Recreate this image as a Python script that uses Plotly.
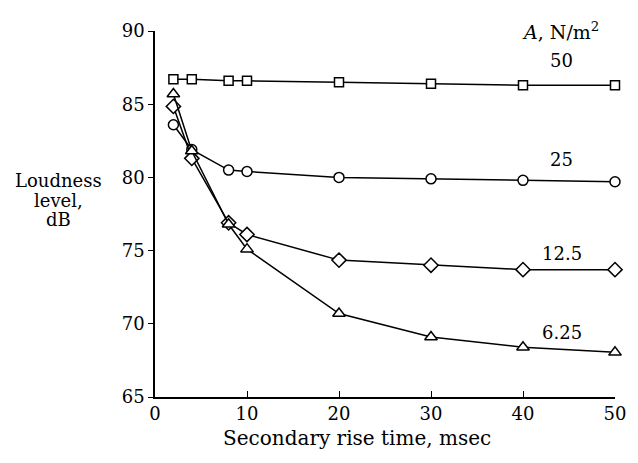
import plotly.graph_objects as go

rise_time = [2, 4, 8, 10, 20, 30, 40, 50]
level_50 = [86.7, 86.7, 86.6, 86.6, 86.5, 86.4, 86.3, 86.3]
level_25 = [83.6, 81.9, 80.5, 80.4, 80.0, 79.9, 79.8, 79.7]
level_12_5 = [84.85, 81.3, 76.9, 76.1, 74.35, 74.0, 73.7, 73.7]
level_6_25 = [85.7, 81.8, 76.8, 75.1, 70.7, 69.1, 68.4, 68.05]
series_labels = ["50", "25", "12.5", "6.25"]
label_y = [88.0, 81.25, 74.8, 69.4]
x_ticks = [0, 10, 20, 30, 40, 50]
y_ticks = [65, 70, 75, 80, 85, 90]
y_title_lines = ["Loudness", "level,", "dB"]
y_title_pos = [79.8, 78.45, 77.1]
x_title = "Secondary rise time, msec"

series_values = [level_50, level_25, level_12_5, level_6_25]
symbols = ["square", "circle", "diamond", "triangle-up"]
sizes = [9, 10, 11, 11]

FAM = "DejaVu Serif, Liberation Serif, serif"


def tf(size=18):
    return dict(size=size, family=FAM, color="black")


fig = go.Figure()
for name, vals, sym, sz, ly in zip(series_labels, series_values, symbols, sizes, label_y):
    fig.add_trace(go.Scatter(
        x=rise_time, y=vals, mode="lines+markers", name=name,
        line=dict(color="black", width=1.5),
        marker=dict(symbol=sym, size=sz, color="white",
                    line=dict(color="black", width=1.5)),
        showlegend=False, cliponaxis=False,
    ))
    fig.add_annotation(x=44.2, y=ly, text=name, showarrow=False, font=tf())

fig.add_annotation(x=44.1, y=90.0, text="<i>A</i>, N/m<sup>2</sup>",
                   showarrow=False, font=tf(19))
for line, yy in zip(y_title_lines, y_title_pos):
    fig.add_annotation(xref="paper", x=-0.2087, y=yy, xanchor="center",
                       text=line, showarrow=False, font=tf())
fig.add_annotation(xref="paper", yref="paper", x=0.439, y=-0.113,
                   xanchor="center", yanchor="middle",
                   text=x_title, showarrow=False, font=tf(20))

fig.update_layout(
    width=630, height=455,
    margin=dict(l=147, r=22, t=20, b=66),
    paper_bgcolor="white", plot_bgcolor="white",
    font=tf(),
    xaxis=dict(range=[0, 50], tickvals=x_ticks, tickfont=tf(),
               showgrid=False, zeroline=False, showline=True, linecolor="black",
               linewidth=1.5, ticks="inside", ticklen=6, tickcolor="black"),
    yaxis=dict(range=[65, 90], tickvals=y_ticks, tickfont=tf(),
               showgrid=False, zeroline=False, showline=True, linecolor="black",
               linewidth=1.5, ticks="outside", ticklen=5, tickcolor="black"),
)
fig.write_html("out.html")
